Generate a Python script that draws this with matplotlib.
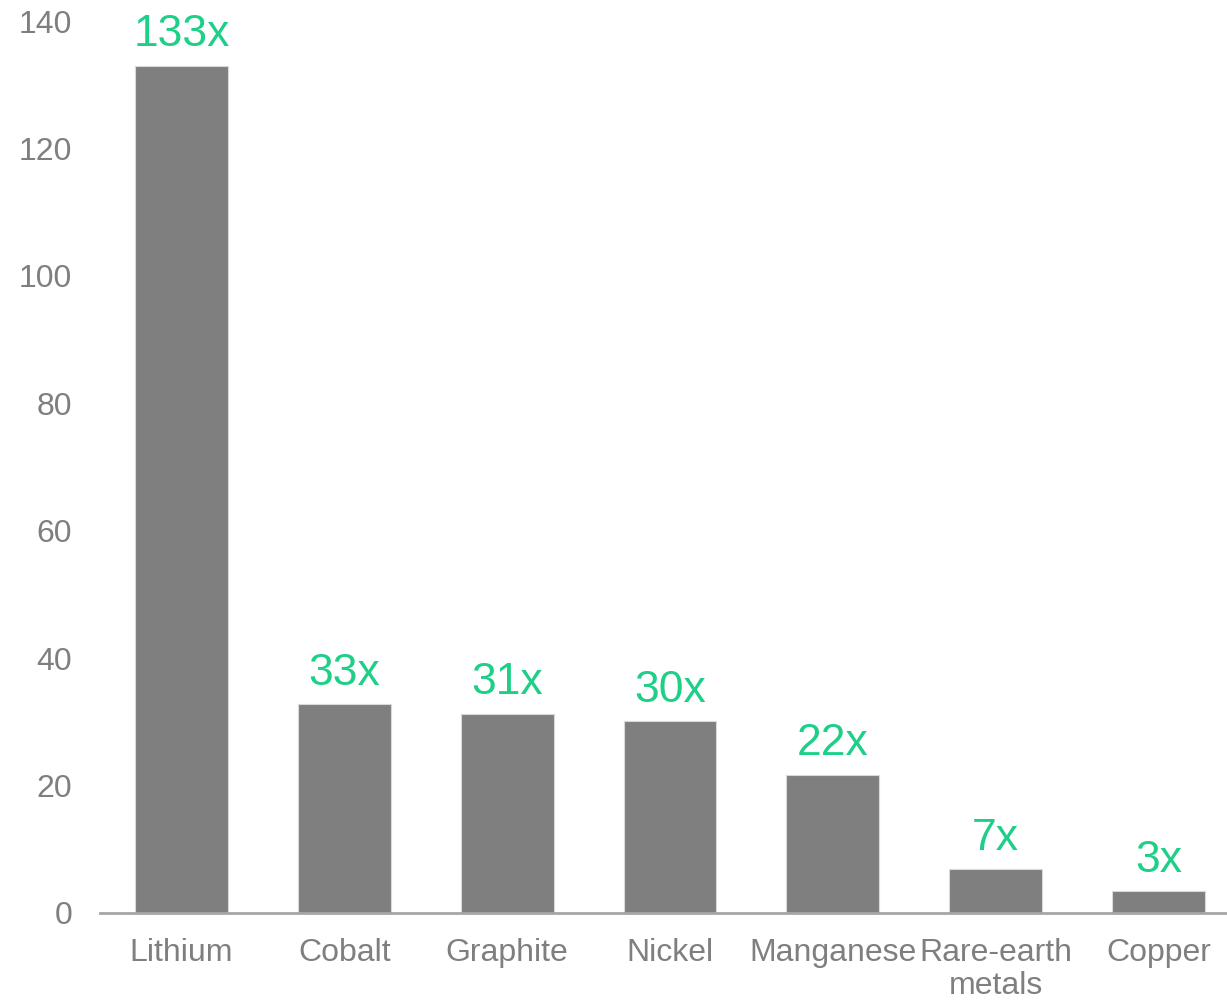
import matplotlib
matplotlib.use("Agg")
import matplotlib.pyplot as plt

# Demand multiples by mineral
minerals = ["Lithium", "Cobalt", "Graphite", "Nickel", "Manganese",
            "Rare-earth\nmetals", "Copper"]
multiples = [133, 32.8, 31.3, 30.1, 21.7, 6.9, 3.4]
y_ticks = [0, 20, 40, 60, 80, 100, 120, 140]

BAR = "#7f7f7f"
TEXT = "#7f7f7f"
GREEN = "#1ecf88"

plt.rcParams["font.family"] = ["Liberation Sans", "DejaVu Sans"]

fig = plt.figure(figsize=(12.27, 10.01), dpi=100)
ax = fig.add_axes([100 / 1227, 88 / 1001, 1140 / 1227, 892 / 1001])

x = list(range(len(minerals)))
ax.bar(x, multiples, width=0.57, color=BAR, edgecolor="#d9d9d9",
       linewidth=0.8, zorder=2)

for xi, v in zip(x, multiples):
    ax.annotate(f"{round(v)}x", (xi, v), xytext=(0, 14), textcoords="offset points",
                ha="center", va="baseline", fontsize=32, color=GREEN)

ax.set_xlim(-0.5, len(minerals) - 0.5)
ax.set_ylim(0, 140)
ax.set_yticks(y_ticks)
ax.set_xticks(x)
ax.set_xticklabels(minerals, linespacing=1.12)

ax.tick_params(axis="y", length=0, pad=20, labelsize=23, labelcolor=TEXT)
ax.tick_params(axis="x", length=0, pad=18, labelsize=23, labelcolor=TEXT)

for side in ("left", "right", "top"):
    ax.spines[side].set_visible(False)
ax.spines["bottom"].set_color("#a6a6a6")
ax.spines["bottom"].set_linewidth(2)

fig.savefig("out.png", dpi=100)
